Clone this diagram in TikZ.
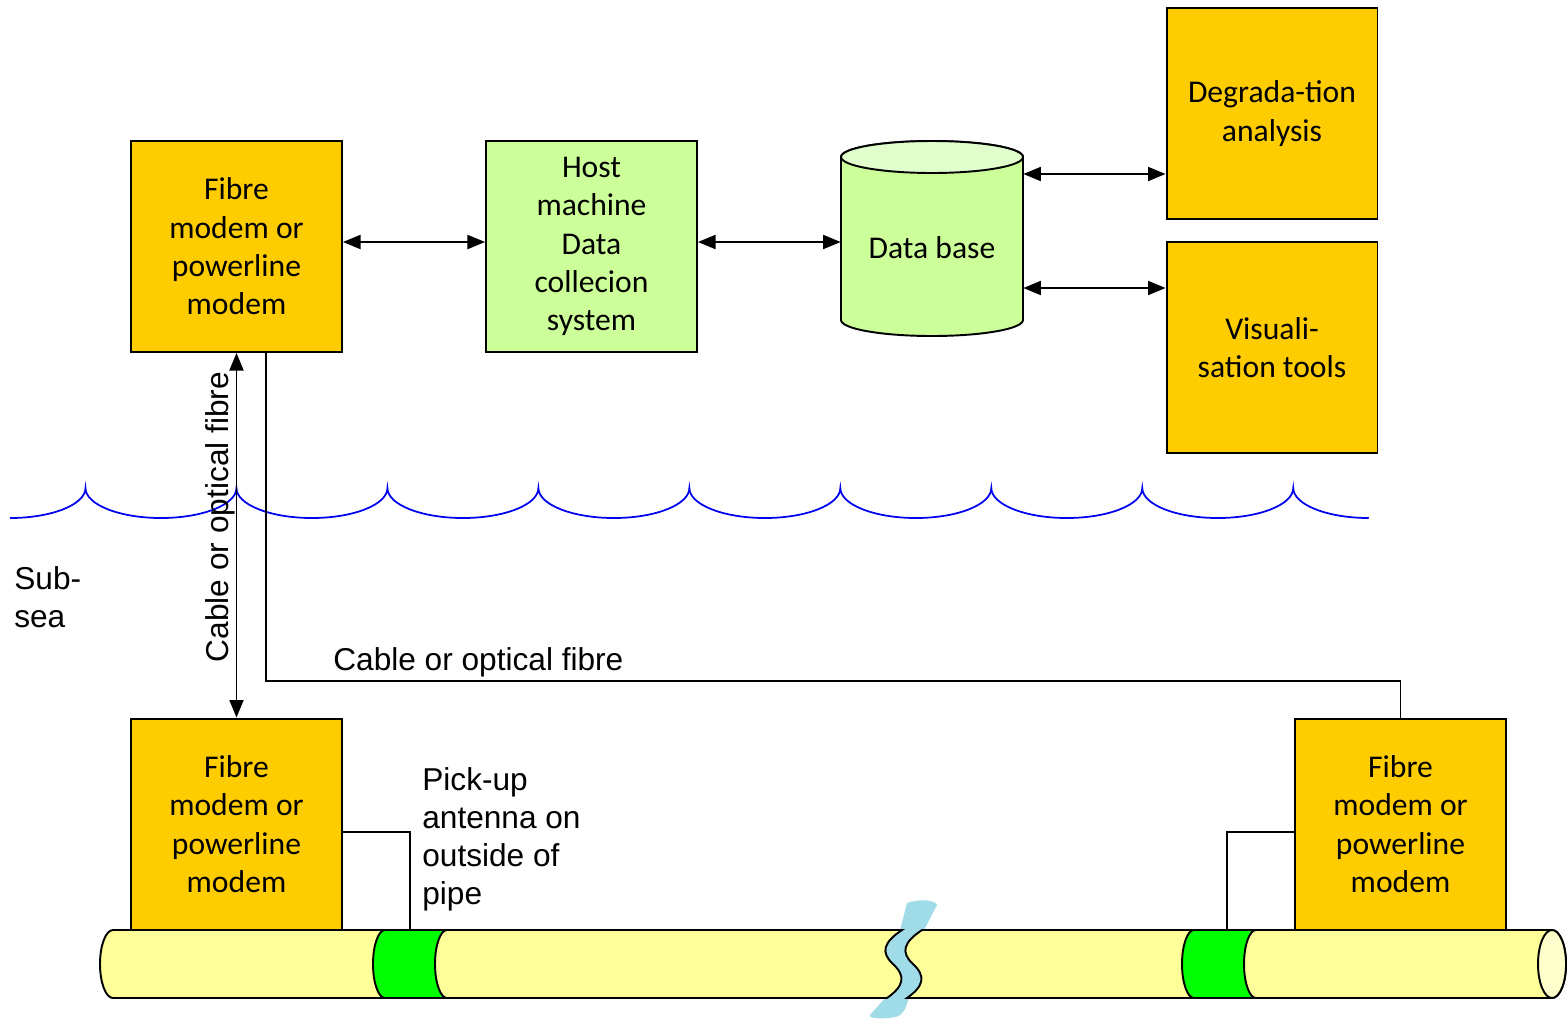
\documentclass[tikz,border=0pt]{standalone}
\usepackage{fontspec}
\setmainfont{Carlito}
\newfontfamily\labelfont{Liberation Sans}
\usetikzlibrary{arrows.meta}
\definecolor{modemorange}{RGB}{255,204,0}
\definecolor{hostgreen}{RGB}{204,255,153}
\definecolor{dbtop}{RGB}{224,255,204}
\definecolor{pipeyellow}{RGB}{255,255,153}
\definecolor{pipeend}{RGB}{255,255,204}
\definecolor{ringgreen}{RGB}{0,255,0}
\definecolor{breakblue}{RGB}{160,220,232}
\definecolor{seablue}{RGB}{0,0,240}

\begin{document}
\begin{tikzpicture}[x=0.02cm, y=0.02cm, >={Triangle[length=10pt,width=8pt]}, %Pfeilspitzen
	box/.style={draw, line width=1.1pt, minimum width=4.22cm, minimum height=4.22cm, inner sep=0pt, align=center, font=\fontsize{18}{21.8}\selectfont},
	modem/.style={box, fill=modemorange},
	host/.style={box, fill=hostgreen},
	lbl/.style={font=\labelfont\fontsize{18}{21.6}\selectfont, inner sep=0pt},
	link/.style={line width=1pt},
	pipe/.style={draw, line width=1.1pt, fill=pipeyellow}]
	\useasboundingbox (0,0) rectangle (1567,-1018);

	% surface boxes
	\node[modem] (fmTop) at (236.5,-246.5) {Fibre\\modem or\\powerline\\modem};
	\node[host] (host) at (591.5,-246.5) {Host\\machine\\Data\\collecion\\system};
	\node[modem] (degr) at (1272,-113.5) {Degrada-tion\\analysis};
	\node[modem] (vis) at (1272,-347.5) {Visuali-\\sation tools};

	% data base cylinder
	\draw[line width=1.1pt, fill=hostgreen] (841,-157) -- (841,-320) arc (180:360:1.82cm and 0.32cm) -- (1023,-157) arc (0:180:1.82cm and 0.32cm) -- cycle;
	\draw[line width=1.1pt, fill=dbtop] (932,-157) ellipse (1.82cm and 0.32cm);
	\node[minimum width=3.64cm, inner sep=0pt, font=\fontsize{18}{21.8}\selectfont] (db) at (932,-248) {Data base};

	\draw[link,<->] (fmTop.east |- 0,-242) -- (host.west |- 0,-242);
	\draw[link,<->] (host.east |- 0,-242) -- (db.west |- 0,-242);
	\draw[link,<->] (db.east |- 0,-174) -- (degr.west |- 0,-174);
	\draw[link,<->] (db.east |- 0,-288) -- (vis.west |- 0,-288);

	% sea surface
	\draw[seablue, line width=1pt] (10,-518) arc (270:360:1.51cm and 0.6cm)
		\foreach \w in {1,...,8} { arc (180:360:1.51cm and 0.6cm) } arc (180:270:1.51cm and 0.6cm);
	\node[lbl, align=left, anchor=north west] (subsea) at (14,-566) {Sub-\\sea};

	% subsea modems
	\node[modem] (fmSub) at (236.5,-824) {Fibre\\modem or\\powerline\\modem};
	\node[modem] (fmR) at (1400.5,-824) {Fibre\\modem or\\powerline\\modem};

	\draw[link,<->] (fmTop) -- (fmSub);
	\node[lbl, rotate=90] (cableV) at (220,-517) {Cable or optical fibre};
	\coordinate (bend) at (266,-681);
	\draw[link] (fmTop.south -| bend) -- (bend) -| (fmR.north);
	\node[lbl, anchor=base west] (cableH) at (333,-670) {Cable or optical fibre};

	% pipe with break
	\fill[breakblue] (907,-903) .. controls (918,-899) and (934,-899) .. (937,-905) -- (924,-930)
		.. controls (906,-942) and (902,-952) .. (915,-964) .. controls (928,-976) and (926,-986) .. (909,-998)
		.. controls (906,-1006) and (905,-1014) .. (896,-1017) .. controls (885,-1019) and (868,-1019) .. (870,-1015)
		-- (885,-998) .. controls (902,-986) and (904,-976) .. (891,-964) .. controls (878,-952) and (882,-942) .. (900,-930)
		-- cycle;
	\draw[pipe] (113,-930) -- (902,-930) .. controls (884,-942) and (880,-952) .. (893,-964)
		.. controls (906,-976) and (904,-986) .. (887,-998) -- (113,-998) arc (270:90:0.26cm and 0.68cm) -- cycle;
	\draw[pipe] (922,-930) -- (1552,-930) arc (90:-90:0.28cm and 0.68cm) -- (907,-998)
		.. controls (924,-986) and (926,-976) .. (913,-964) .. controls (900,-952) and (904,-942) .. (922,-930) -- cycle;
	\draw[line width=1.1pt, fill=pipeend] (1552,-964) ellipse (0.28cm and 0.68cm);

	% antenna rings
	\draw[line width=1.1pt, fill=ringgreen] (385,-930) arc (90:270:0.24cm and 0.68cm) -- (447,-998) arc (270:90:0.24cm and 0.68cm) -- cycle;
	\draw[line width=1.1pt, fill=ringgreen] (1194,-930) arc (90:270:0.24cm and 0.68cm) -- (1256,-998) arc (270:90:0.24cm and 0.68cm) -- cycle;

	\coordinate (antL) at (410,-930);
	\coordinate (antR) at (1227,-930);
	\draw[link] (fmSub.east |- 0,-832) -| (antL);
	\draw[link] (fmR.west |- 0,-832) -| (antR);
	\node[lbl, align=left, anchor=north west] (pickup) at (422,-767) {Pick-up\\antenna on\\outside of\\pipe};
\end{tikzpicture}
\end{document}
